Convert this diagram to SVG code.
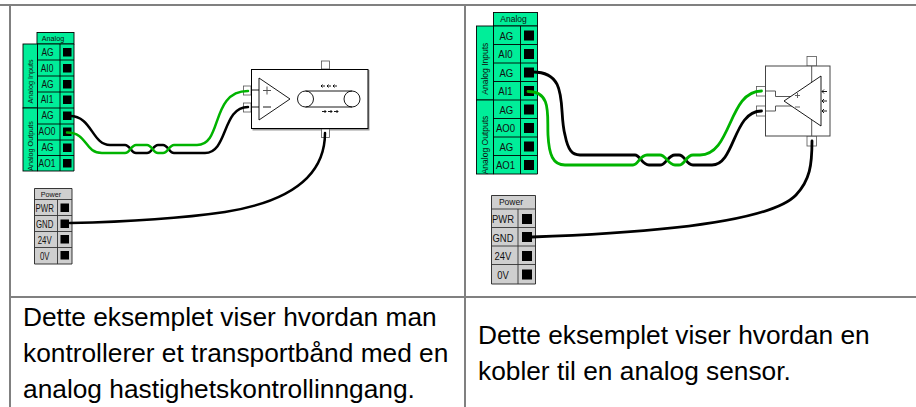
<svg xmlns="http://www.w3.org/2000/svg" width="916" height="407" viewBox="0 0 916 407">
<style>
.grid{stroke:#808080;stroke-width:2;fill:none}
.g{fill:#00ee99;stroke:#000;stroke-width:.9}
.p{fill:#cfcfcf;stroke:#222;stroke-width:.9}
.pin{fill:#000}
text{font-family:"Liberation Sans",Arial,sans-serif;fill:#111}
.s{text-anchor:middle;font-size:10.5px}
.s2{text-anchor:middle;font-size:10px}
.l{text-anchor:middle;font-size:11.8px}
.h{text-anchor:middle;font-size:7.2px}
.h2{text-anchor:middle;font-size:8.5px}
.cap{font-family:"Liberation Sans",Arial,sans-serif;font-size:26.3px;fill:#000}
.w{fill:none;stroke-linecap:round;stroke-width:2.5}
.w2{fill:none;stroke-linecap:round;stroke-width:2.8}
.k{stroke:#000}.gr{stroke:#00b300}
.dev{fill:#fff;stroke:#000;stroke-width:1}
.tab{fill:#fff;stroke:#555;stroke-width:.8}
.ln{fill:none;stroke:#000;stroke-width:.9}
.ln2{fill:none;stroke:#333;stroke-width:.9}
.sh{fill:#999}
</style>
<g id="table">
<path class="grid" d="M0 5H916M10 5V407M465 5V407M10 297H916"/>
</g>
<g id="terminal-analog-left">
<rect class="g" x="37" y="32.500" width="37" height="11.500"/>
<rect class="g" x="23" y="44" width="14.500" height="64"/>
<rect class="g" x="23" y="108" width="14.500" height="63"/>
<path class="g" d="M37.500 44H74V171H37.500Z"/>
<path class="ln" d="M37.500 60H74M37.500 76H74M37.500 92H74M37.500 108H74M37.500 124H74M37.500 140H74M37.500 155.500H74M60 44V171"/>
<text class="h" x="53" y="40.500">Analog</text>
<text class="h" transform="translate(32.500 81.500) rotate(-90)">Analog Inputs</text>
<text class="h" transform="translate(32.500 146) rotate(-90)">Analog Outputs</text>
<g transform="translate(47 0) scale(.8 1)">
<text class="s" x=".6" y="56.500">AG</text><text class="s" y="72.300">AI0</text><text class="s" x=".6" y="88.300">AG</text><text class="s" y="103.500">AI1</text><text class="s" x=".6" y="119.300">AG</text><text class="s" y="135.300">AO0</text><text class="s" x=".6" y="151">AG</text><text class="s" y="167.300">AO1</text>
</g>
<path class="pin" d="M63 48h8.500v8.500h-8.500zM63 64h8.500v8.500h-8.500zM63 80h8.500v8.500h-8.500zM63 95.500h8.500v8.500h-8.500zM63 111.500h8.500v8.500h-8.500zM63 127.500h8.500v8.500h-8.500zM63 143.500h8.500v8.500h-8.500zM63 159h8.500v8.500h-8.500z"/>
</g>
<g id="terminal-power-left">
<path class="p" d="M34.500 188.500H72V264H34.500Z"/>
<path class="ln2" d="M34.500 199.500H72M34.500 215.500H72M34.500 231.500H72M34.500 247.500H72M57.500 199.500V264"/>
<text class="h" x="51" y="196.500">Power</text>
<g transform="translate(44.700 0) scale(.78 1)">
<text class="s2" y="212.300">PWR</text><text class="s2" y="228.300">GND</text><text class="s2" y="244.300">24V</text><text class="s2" y="259.800">0V</text>
</g>
<path class="pin" d="M60.500 203.500h8.500v8.500h-8.500zM60.500 219.500h8.500v8.500h-8.500zM60.500 235h8.500v8.500h-8.500zM60.500 251h8.500v8.500h-8.500z"/>
</g>
<g id="device-conveyor">
<path class="sh" d="M368 70h1.500v60.500h-117v-1.500H368z"/>
<rect class="tab" x="321.500" y="61" width="8" height="8"/>
<rect class="tab" x="321.500" y="129" width="8" height="8.500"/>
<rect class="tab" x="243.500" y="86" width="7.500" height="9"/>
<rect class="tab" x="243.500" y="103" width="7.500" height="9"/>
<rect class="dev" x="251.500" y="69.500" width="116.500" height="59"/>
<path class="ln" d="M251.500 90H259M251.500 107H259M259 78L290 99L259 120ZM263 107H271"/>
<path d="M263 90.500H271M267 86.500V94.500" fill="none" stroke="#555" stroke-width="1"/>
<circle class="ln" cx="305.500" cy="99" r="8"/>
<circle class="ln" cx="352" cy="99" r="8"/>
<path class="ln" d="M305.500 91H352M305.500 107H352"/>
<path class="ln" d="M321 86h4m-4 0l1.500-1.500m-1.500 1.500l1.500 1.500M327 86h4m-4 0l1.500-1.500m-1.500 1.500l1.500 1.500M333 86h4m-4 0l1.500-1.500m-1.500 1.500l1.500 1.500M322 111.500h4m0 0l-1.500-1.500m1.500 1.500l-1.500 1.500M328 111.500h4m0 0l-1.500-1.500m1.500 1.500l-1.500 1.500M334 111.500h4m0 0l-1.500-1.500m1.500 1.500l-1.500 1.500"/>
</g>
<g id="terminal-analog-right">
<rect class="g" x="493.500" y="12.500" width="44" height="13.500"/>
<rect class="g" x="476.500" y="26" width="17" height="74"/>
<rect class="g" x="476.500" y="100" width="17" height="74"/>
<path class="g" d="M493.500 26H537.500V174H493.500Z"/>
<path class="ln" d="M493.500 44.500H537.500M493.500 63H537.500M493.500 81.500H537.500M493.500 100H537.500M493.500 118.500H537.500M493.500 137H537.500M493.500 155.500H537.500M520.500 26V174"/>
<text class="h2" x="513.500" y="22">Analog</text>
<text class="h2" transform="translate(488 68.700) rotate(-90)">Analog Inputs</text>
<text class="h2" transform="translate(488 145) rotate(-90)">Analog Outputs</text>
<g transform="translate(505.500 0) scale(.81 1)">
<text class="l" x="1" y="40">AG</text><text class="l" y="58.500">AI0</text><text class="l" x="1" y="77">AG</text><text class="l" y="95.500">AI1</text><text class="l" x="1" y="114">AG</text><text class="l" y="132.500">AO0</text><text class="l" x="1" y="151">AG</text><text class="l" y="169.500">AO1</text>
</g>
<path class="pin" d="M524 30.500h10v10h-10zM524 49h10v10h-10zM524 67.500h10v10h-10zM524 86h10v10h-10zM524 104.500h10v10h-10zM524 123h10v10h-10zM524 141.500h10v10h-10zM524 160h10v10h-10z"/>
</g>
<g id="terminal-power-right">
<path class="p" d="M491.500 195.500H535.500V284H491.500Z"/>
<path class="ln2" d="M491.500 209H535.500M491.500 227.500H535.500M491.500 246H535.500M491.500 264.500H535.500M518 209V284"/>
<text class="h2" x="511" y="205">Power</text>
<g transform="translate(503 0) scale(.8 1)">
<text class="l" y="223">PWR</text><text class="l" y="242">GND</text><text class="l" y="260">24V</text><text class="l" y="279">0V</text>
</g>
<path class="pin" d="M522 214h10v10h-10zM522 232h10v10h-10zM522 251h10v10h-10zM522 269.500h10v10h-10z"/>
</g>
<g id="device-sensor">
<rect class="tab" x="807" y="56.500" width="9.500" height="9.500"/>
<rect class="tab" x="807" y="136" width="9.500" height="10"/>
<rect class="tab" x="756.500" y="86.500" width="9.500" height="9.500"/>
<rect class="tab" x="756.500" y="106" width="9.500" height="10"/>
<rect x="765.500" y="66" width="64.500" height="70" fill="#fff" stroke="#444" stroke-width="1"/>
<path d="M811.700 66V136M766 91H775.500V96.500H792M766 111H775.500V106H792" fill="none" stroke="#444" stroke-width=".9"/>
<path d="M784 101L821 76V126Z" fill="#fff" stroke="#000" stroke-width=".9"/>
<path d="M795 95.500H800M797.500 93V98M795 107H800" fill="none" stroke="#555" stroke-width=".9"/>
<path class="ln" d="M822 91.500h5m-5 0l2-2m-2 2l2 2M822 101h5m-5 0l2-2m-2 2l2 2M822 111h5m-5 0l2-2m-2 2l2 2"/>
</g>
<g id="connectors">
<path class="w k" d="M70 116C92 116 92 145 110 145H125C130 145 131 153 136 153H147C152 153 153 145 158 145H163C168 145 169 153 174 153H205C228 153 222 107 248 107"/>
<path class="w gr" d="M67 132.500C88 132.500 84 153 102 153H125C130 153 131 145 136 145H147C152 145 153 153 158 153H163C168 153 169 145 174 145H197C223 145 210 91 248 91"/>
<path class="w k" d="M325 133C325 170 300 200 225 212C170 220 120 222 70 223"/>
<path class="w2 k" d="M533 72C570 72 558 110 565 135C568 150 572 155 580 155H635C640 155 642 165 649 165H660C666 165 668 155 675 155H679C685 155 686 165 693 165H712C735 165 733 111 761.500 111"/>
<path class="w2 gr" d="M528 91.500C552 91.500 547 115 548 135C549 155 553 165 565 165H633C638 165 640 155 647 155H660C666 155 668 165 675 165H679C685 165 686 155 693 155H700C732 155 728 91 761.500 91"/>
<path class="w2 k" d="M812 141C812 165 810 180 796 195C770 222 650 233 532 237"/>
</g>
<g id="captions">
<text class="cap" x="23" y="326">Dette eksemplet viser hvordan man</text>
<text class="cap" x="23" y="362">kontrollerer et transportbånd med en</text>
<text class="cap" x="23" y="398">analog hastighetskontrollinngang.</text>
<text class="cap" x="478" y="344">Dette eksemplet viser hvordan en</text>
<text class="cap" x="478" y="380">kobler til en analog sensor.</text>
</g>
</svg>
